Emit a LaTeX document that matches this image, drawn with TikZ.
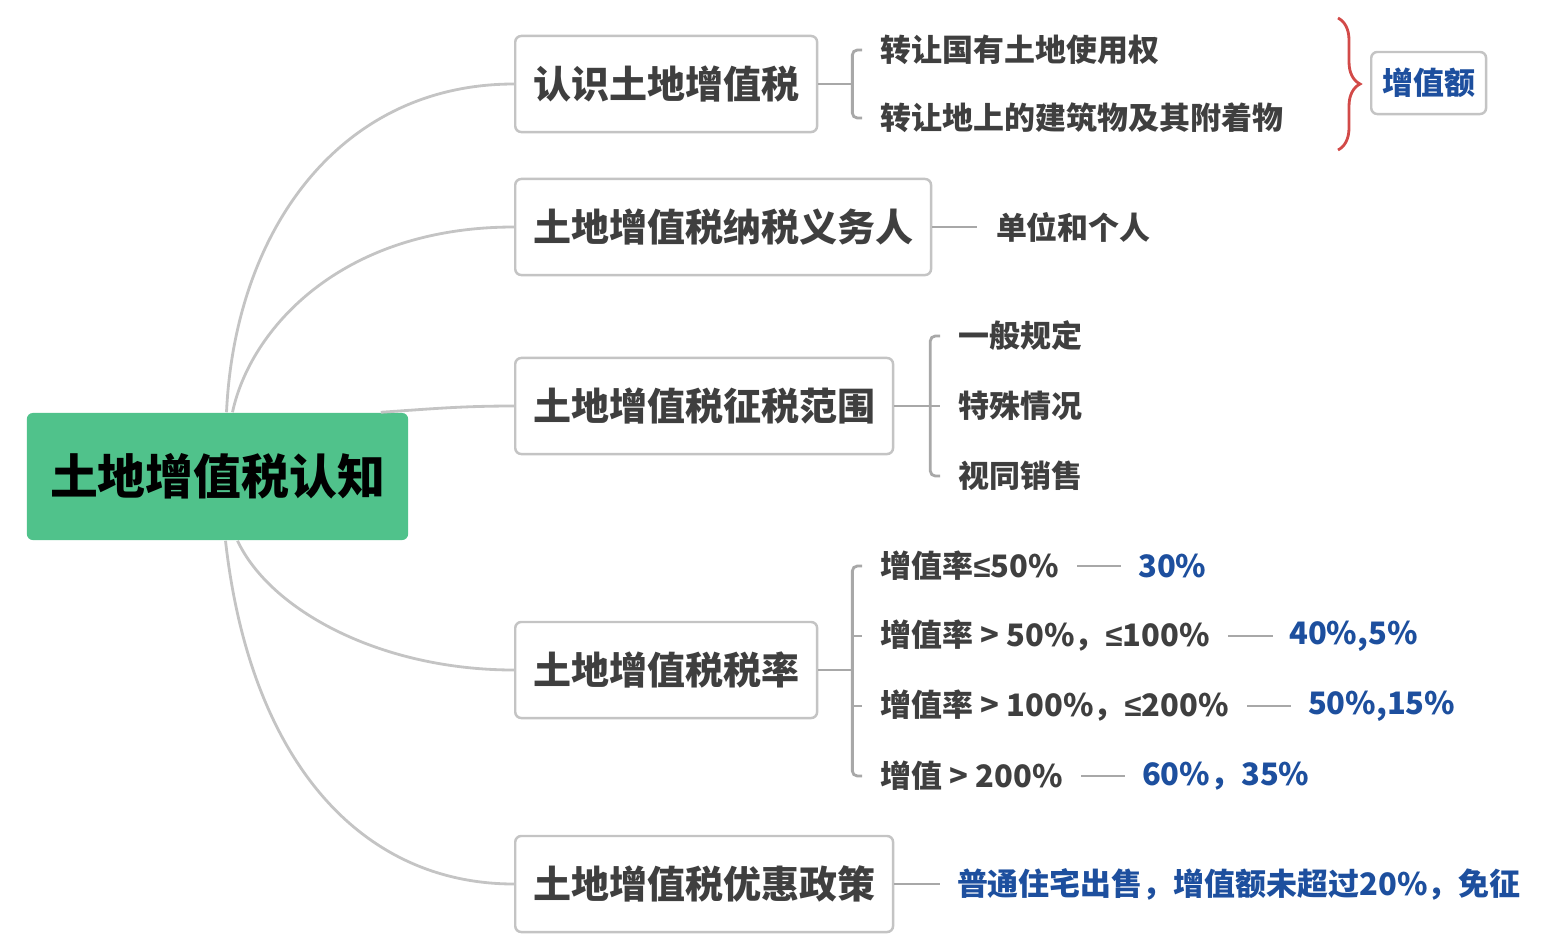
\documentclass[tikz,border=0pt]{standalone}
\usepackage{fontspec}
\setmainfont{Noto Sans CJK SC}
\newfontfamily\symfont{Liberation Sans}
\usetikzlibrary{calc,positioning,decorations.pathreplacing}
\definecolor{rootgreen}{HTML}{50C28B}
\definecolor{txtgray}{HTML}{3F3F3F}
\definecolor{valblue}{HTML}{1D4F9E}
\definecolor{linegray}{HTML}{C4C4C4}
\definecolor{forkgray}{HTML}{A8A8A8}
\definecolor{bracered}{HTML}{D24A48}
\newcommand{\rootfont}{\fontsize{13.6pt}{16pt}\selectfont\bfseries}
\newcommand{\topicfont}{\fontsize{10.8pt}{13pt}\selectfont\bfseries}
\newcommand{\leaffont}{\fontsize{8.8pt}{11pt}\selectfont\bfseries}
\newcommand{\lesym}{{\symfont ≤}}

\begin{document}
\begin{tikzpicture}[
    x=0.01cm, y=-0.01cm,
    root/.style={fill=rootgreen, rounded corners=0.6mm, minimum width=3.81cm, minimum height=1.27cm, font=\rootfont, text=black},
    topic/.style={draw=linegray, line width=0.7pt, fill=white, rounded corners=0.6mm, anchor=west, minimum height=0.96cm, inner xsep=1.8mm, font=\topicfont, text=txtgray},
    leaf/.style={anchor=west, inner xsep=1.8mm, inner ysep=0.5mm, font=\leaffont, text=txtgray},
    val/.style={inner xsep=1.6mm, inner ysep=0.5mm, font=\leaffont, text=valblue},
    tag/.style={draw=linegray, line width=0.7pt, fill=white, rounded corners=0.6mm, minimum height=0.62cm, inner xsep=1.1mm, font=\leaffont, text=valblue},
    curve/.style={draw=linegray, line width=0.8pt},
    fork/.style={draw=forkgray, line width=0.8pt, rounded corners=0.5mm}
]
  \useasboundingbox (0,0) rectangle (1563,945);

  \node[root] (root) at (217.5,476.5) {土地增值税认知};

  \node[topic] (know) at (514,84) {认识土地增值税};
  \node[topic] (payer) at (514,227) {土地增值税纳税义务人};
  \node[topic] (scope) at (514,406) {土地增值税征税范围};
  \node[topic] (rate) at (514,670) {土地增值税税率};
  \node[topic] (relief) at (514,884) {土地增值税优惠政策};

  \draw[curve] ([xshift=0.9mm]root.north) .. controls (235,230) and (340,84) .. (know.west);
  \draw[curve] ([xshift=1.5mm]root.north) .. controls (250,330) and (340,227) .. (payer.west);
  \draw[curve] ([xshift=-2.8mm]root.north east) .. controls (430,409) and (460,406) .. (scope.west);
  \draw[curve] ([xshift=2mm]root.south) .. controls (270,610) and (380,670) .. (rate.west);
  \draw[curve] ([xshift=0.8mm]root.south) .. controls (250,760) and (360,884) .. (relief.west);

  % 认识
  \coordinate (knowfork) at ($(know.east)+(34,0)$);
  \node[leaf] (land) at (862,50) {转让国有土地使用权};
  \node[leaf] (bldg) at (862,118) {转让地上的建筑物及其附着物};
  \draw[fork] (know.east) -- (knowfork);
  \draw[fork] (land.west) -| (knowfork) |- (bldg.west);

  \coordinate (bracetop) at (1338,18);
  \coordinate (bracebot) at (1338,150);
  \node[tag, anchor=west] (gain) at (1370,83) {增值额};
  \draw[bracered, line width=0.8pt, decorate, decoration={brace, amplitude=2.2mm}] (bracetop) -- (bracebot);

  % 纳税人
  \node[leaf, right=4.5mm of payer] (unit) {单位和个人};
  \draw[fork] (payer) -- (unit);

  % 范围
  \coordinate (scopefork) at ($(scope.east)+(36,0)$);
  \node[leaf] (general) at (940,336) {一般规定};
  \node[leaf] (special) at (940,406) {特殊情况};
  \node[leaf] (deemed) at (940,476) {视同销售};
  \draw[fork] (scope.east) -- (special.west);
  \draw[fork] (general.west) -| (scopefork) |- (deemed.west);

  % 税率
  \coordinate (ratefork) at ($(rate.east)+(34,0)$);
  \node[leaf] (r1) at (862,566) {增值率\lesym 50\%};
  \node[leaf] (r2) at (862,636) {增值率 > 50\%，\lesym 100\%};
  \node[leaf] (r3) at (862,706) {增值率 > 100\%，\lesym 200\%};
  \node[leaf] (r4) at (862,776) {增值 > 200\%};
  \node[val, right=4.4mm of r1] (v1) {30\%};
  \node[val, right=4.4mm of r2] (v2) {40\%,5\%};
  \node[val, right=4.4mm of r3] (v3) {50\%,15\%};
  \node[val, right=4.4mm of r4] (v4) {60\%，35\%};
  \draw[fork] (rate.east) -- (ratefork);
  \draw[fork] (r1.west) -| (ratefork) |- (r4.west);
  \draw[fork] (ratefork |- r2.west) -- (r2.west);
  \draw[fork] (ratefork |- r3.west) -- (r3.west);
  \foreach \i in {1,...,4}
    \draw[fork] (r\i) -- (v\i);

  % 优惠
  \node[val, right=4.6mm of relief] (exempt) {普通住宅出售，增值额未超过20\%，免征};
  \draw[fork] (relief) -- (exempt);
\end{tikzpicture}
\end{document}
